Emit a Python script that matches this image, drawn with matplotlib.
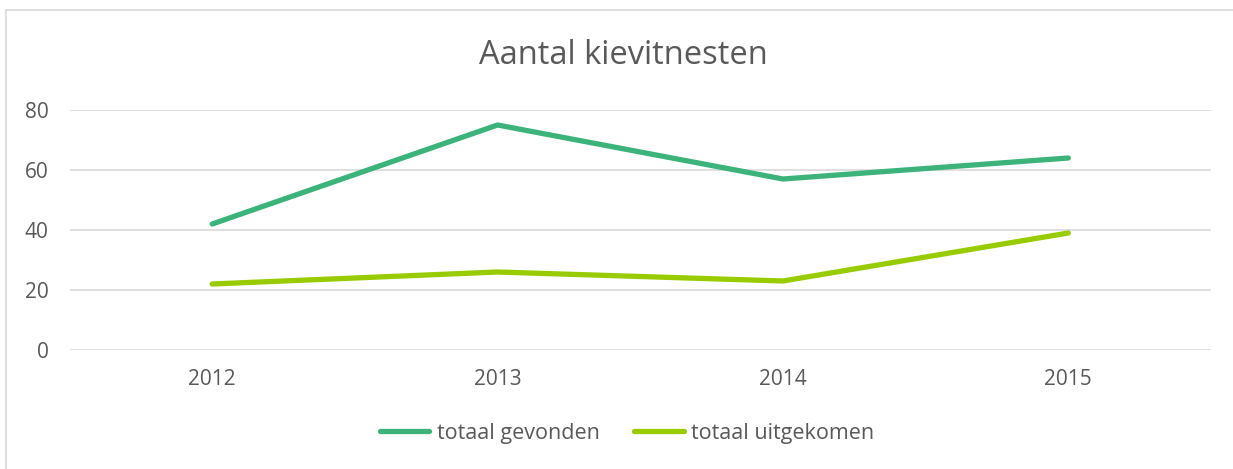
import matplotlib
matplotlib.use("Agg")
import matplotlib.pyplot as plt
from matplotlib.lines import Line2D

years = ["2012", "2013", "2014", "2015"]
gevonden = [42, 75, 57, 64]
uitgekomen = [22, 26, 23, 39]
yticks = [0, 20, 40, 60, 80]
title = "Aantal kievitnesten"
labels = ["totaal gevonden", "totaal uitgekomen"]

plt.rcParams['font.family'] = ['Open Sans', 'DejaVu Sans']
txt = "#595959"

fig = plt.figure(figsize=(12.33, 4.69), dpi=100)
W, H = 1233, 469
ax = fig.add_axes([69.5 / W, 1 - 350 / H, (1211 - 69.5) / W, 240 / H])

x = list(range(len(years)))
ax.plot(x, gevonden, color="#3BB37B", lw=3.8, solid_capstyle="round", solid_joinstyle="round", label=labels[0], zorder=3)
ax.plot(x, uitgekomen, color="#99CC00", lw=3.8, solid_capstyle="round", solid_joinstyle="round", label=labels[1], zorder=3)

ax.set_xlim(-0.5, len(years) - 0.5)
ax.set_ylim(0, 80)
ax.set_yticks(yticks)
ax.set_xticks(x)
ax.set_xticklabels(years)
ax.grid(axis="y", color="#D9D9D9", lw=1.2)
ax.set_axisbelow(True)
for s in ax.spines.values():
    s.set_visible(False)
ax.tick_params(length=0, labelsize=15, colors=txt)
ax.tick_params(axis="x", pad=14)
ax.tick_params(axis="y", pad=15)
for t in ax.get_yticklabels() + ax.get_xticklabels():
    t.set_color(txt)

fig.text(623 / W, 1 - 56 / H, title, ha="center", va="center", fontsize=23.5, color=txt)

leg = fig.legend(loc="center", bbox_to_anchor=(627 / W, 1 - 433 / H), ncol=2, frameon=False,
                 fontsize=15.5, handlelength=2.3, handletextpad=0.35, columnspacing=1.6)
for t in leg.get_texts():
    t.set_color(txt)

# outer border (top and left)
fig.add_artist(Line2D([6 / W, 6 / W], [0, 1 - 10 / H], transform=fig.transFigure, color="#D9D9D9", lw=1.2))
fig.add_artist(Line2D([6 / W, 1], [1 - 10 / H, 1 - 10 / H], transform=fig.transFigure, color="#D9D9D9", lw=1.2))

fig.savefig("out.png", dpi=100)
